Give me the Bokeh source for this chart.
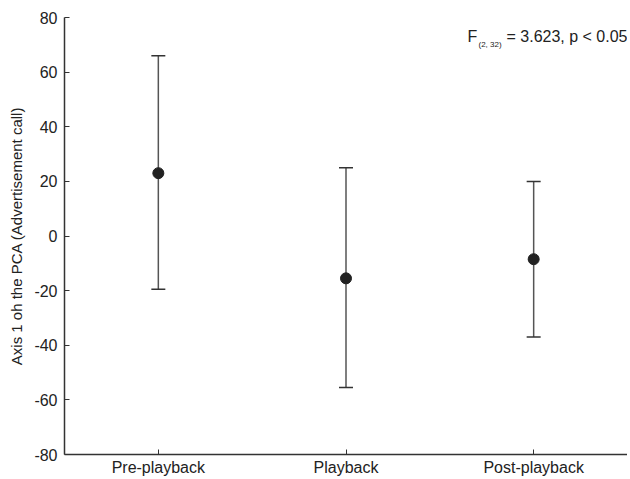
from bokeh.plotting import figure
from bokeh.models import Range1d, FixedTicker, Whisker, ColumnDataSource, Label
from bokeh.embed import file_html
from bokeh.resources import INLINE

categories = ["Pre-playback", "Playback", "Post-playback"]
means = [23, -15.5, -8.5]
upper = [66, 25, 20]
lower = [-19.5, -55.5, -37]
y_ticks = [-80, -60, -40, -20, 0, 20, 40, 60, 80]

xs = [1, 2, 3]
src = ColumnDataSource(dict(x=xs, m=means, up=upper, lo=lower))

p = figure(frame_width=563, frame_height=437, output_backend="svg", toolbar_location=None,
           x_range=Range1d(0.5, 3.5), y_range=Range1d(-80, 80),
           min_border_left=64, min_border_top=17, min_border_right=0, min_border_bottom=17)
p.outline_line_color = None
p.grid.grid_line_color = None
p.background_fill_color = "white"

w = Whisker(source=src, base="x", upper="up", lower="lo", line_color="#555555", line_width=1.5)
w.upper_head.size = 14
w.lower_head.size = 14
w.upper_head.line_color = "#333333"
w.lower_head.line_color = "#333333"
w.upper_head.line_width = 1.5
w.lower_head.line_width = 1.5
p.add_layout(w)
p.scatter("x", "m", source=src, size=11, color="#222222")

for ax in (p.xaxis[0], p.yaxis[0]):
    ax.axis_line_color = "#333333"
    ax.axis_line_width = 1.5
    ax.major_tick_line_color = "#333333"
    ax.major_tick_in = 5
    ax.major_tick_out = 0
    ax.minor_tick_line_color = None
    ax.major_label_text_font = "Liberation Sans"
    ax.major_label_text_font_size = "16px"
    ax.major_label_text_color = "#222222"

p.xaxis.ticker = FixedTicker(ticks=xs)
p.xaxis.major_label_overrides = {x: c for x, c in zip(xs, categories)}
p.xaxis.major_label_standoff = 4
p.yaxis.ticker = FixedTicker(ticks=y_ticks)
p.yaxis.major_label_overrides = {t: str(t) for t in y_ticks}
p.yaxis.major_label_standoff = 7
p.yaxis.axis_label = "Axis 1 oh the PCA (Advertisement call)"
p.yaxis.axis_label_text_font = "Liberation Sans"
p.yaxis.axis_label_text_font_style = "normal"
p.yaxis.axis_label_text_font_size = "15px"
p.yaxis.axis_label_text_color = "#222222"
p.yaxis.axis_label_standoff = 6

p.add_layout(Label(x=3.5, y=80, x_offset=0, y_offset=-27, text="= 3.623, p < 0.05", text_align="right",
                   text_font="Liberation Sans", text_font_size="16px", text_color="#222222"))
p.add_layout(Label(x=3.5, y=80, x_offset=-160, y_offset=-27, text="F",
                   text_font="Liberation Sans", text_font_size="16px", text_color="#222222"))
p.add_layout(Label(x=3.5, y=80, x_offset=-149, y_offset=-31, text="(2, 32)",
                   text_font="Liberation Sans", text_font_size="8px", text_color="#222222"))

open("out.html", "w").write(file_html(p, INLINE))
